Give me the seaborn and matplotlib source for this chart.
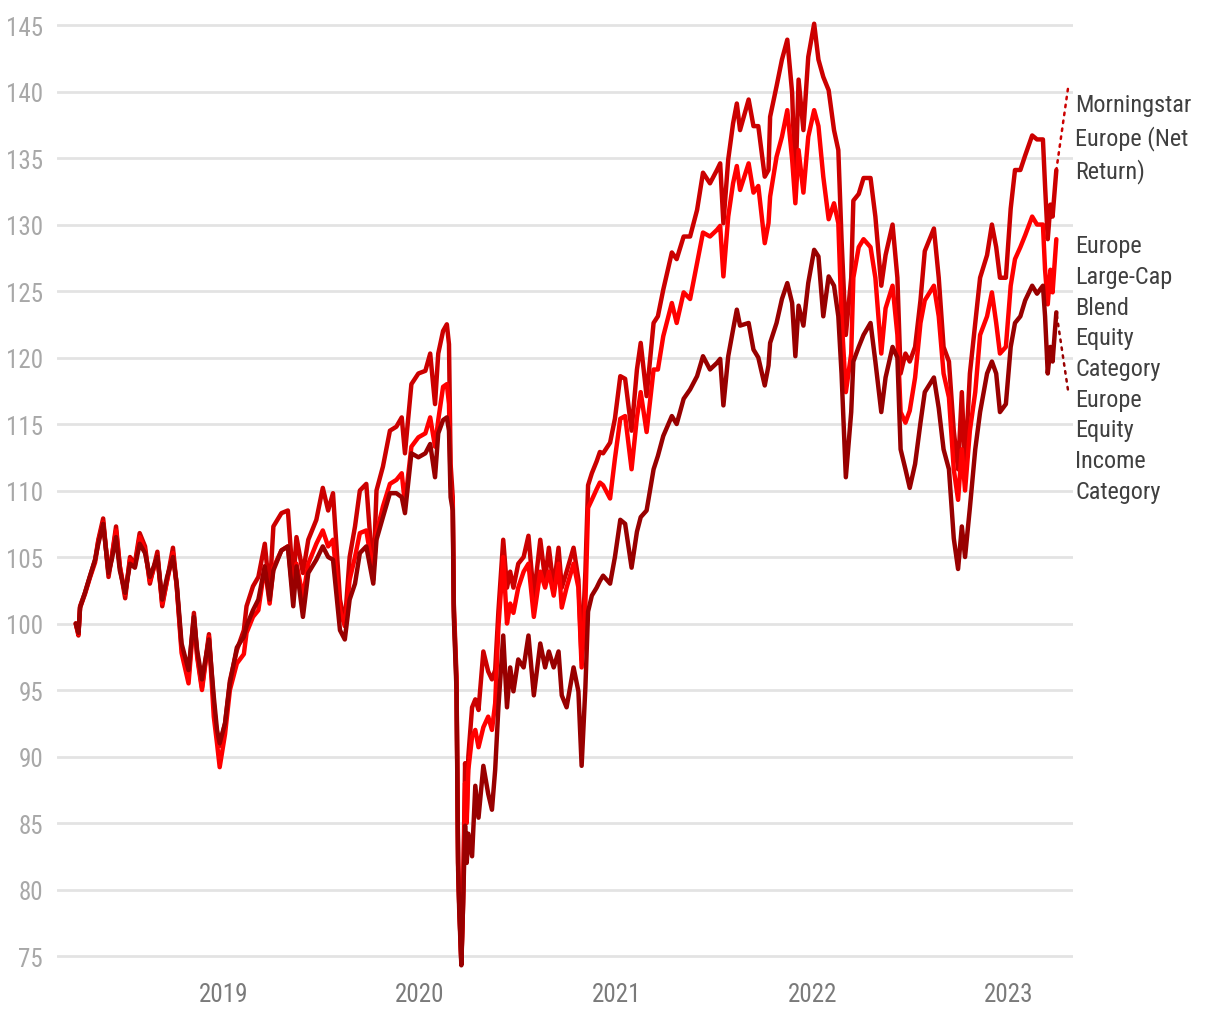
import matplotlib
matplotlib.use("Agg")
import matplotlib.pyplot as plt
import matplotlib.transforms as mtransforms
from matplotlib import font_manager
import pandas as pd
import seaborn as sns

# ---------------- data ----------------
dates = [
    "2018-03-31", "2018-04-05", "2018-04-08", "2018-04-17", "2018-04-26", "2018-05-06", "2018-05-12",
    "2018-05-21", "2018-05-31", "2018-06-06", "2018-06-14", "2018-06-21", "2018-07-01", "2018-07-10",
    "2018-07-19", "2018-07-28", "2018-08-07", "2018-08-16", "2018-08-30", "2018-09-08", "2018-09-17",
    "2018-09-28", "2018-10-05", "2018-10-14", "2018-10-27", "2018-11-06", "2018-11-12", "2018-11-21",
    "2018-12-04", "2018-12-13", "2018-12-19", "2018-12-24", "2019-01-03", "2019-01-12", "2019-01-25",
    "2019-02-07", "2019-02-12", "2019-02-24", "2019-03-06", "2019-03-18", "2019-03-27", "2019-04-03",
    "2019-04-18", "2019-04-30", "2019-05-10", "2019-05-16", "2019-05-28", "2019-06-07", "2019-06-22",
    "2019-07-04", "2019-07-14", "2019-07-23", "2019-08-05", "2019-08-14", "2019-08-23", "2019-09-02",
    "2019-09-11", "2019-09-23", "2019-10-06", "2019-10-12", "2019-10-24", "2019-11-06", "2019-11-18",
    "2019-11-28", "2019-12-04", "2019-12-16", "2019-12-29", "2020-01-11", "2020-01-20", "2020-01-29",
    "2020-02-04", "2020-02-13", "2020-02-20", "2020-02-24", "2020-02-27", "2020-03-02", "2020-03-04",
    "2020-03-09", "2020-03-12", "2020-03-14", "2020-03-18", "2020-03-21", "2020-03-25", "2020-03-28",
    "2020-03-31", "2020-04-07", "2020-04-13", "2020-04-19", "2020-04-28", "2020-05-07", "2020-05-14",
    "2020-05-20", "2020-05-26", "2020-06-04", "2020-06-11", "2020-06-17", "2020-06-23", "2020-07-02",
    "2020-07-12", "2020-07-21", "2020-07-31", "2020-08-12", "2020-08-21", "2020-08-28", "2020-09-06",
    "2020-09-15", "2020-09-21", "2020-09-30", "2020-10-13", "2020-10-22", "2020-10-28", "2020-11-04",
    "2020-11-09", "2020-11-16", "2020-11-25", "2020-12-01", "2020-12-07", "2020-12-20", "2020-12-29",
    "2021-01-08", "2021-01-17", "2021-01-29", "2021-02-08", "2021-02-15", "2021-02-26", "2021-03-11",
    "2021-03-19", "2021-03-29", "2021-04-14", "2021-04-23", "2021-05-06", "2021-05-18", "2021-05-31",
    "2021-06-11", "2021-06-24", "2021-07-07", "2021-07-13", "2021-07-19", "2021-07-28", "2021-08-06",
    "2021-08-13", "2021-08-19", "2021-09-04", "2021-09-13", "2021-09-22", "2021-10-04", "2021-10-11",
    "2021-10-14", "2021-10-26", "2021-11-05", "2021-11-15", "2021-11-24", "2021-11-30", "2021-12-06",
    "2021-12-15", "2021-12-24", "2022-01-04", "2022-01-12", "2022-01-21", "2022-01-31", "2022-02-10",
    "2022-02-18", "2022-02-24", "2022-03-04", "2022-03-14", "2022-03-18", "2022-03-28", "2022-04-06",
    "2022-04-19", "2022-04-28", "2022-05-09", "2022-05-17", "2022-05-30", "2022-06-08", "2022-06-14",
    "2022-06-23", "2022-07-01", "2022-07-11", "2022-07-21", "2022-07-29", "2022-08-15", "2022-08-24",
    "2022-09-02", "2022-09-12", "2022-09-21", "2022-09-29", "2022-10-06", "2022-10-12", "2022-10-21",
    "2022-10-31", "2022-11-09", "2022-11-22", "2022-12-01", "2022-12-09", "2022-12-16", "2022-12-27",
    "2023-01-05", "2023-01-13", "2023-01-23", "2023-02-01", "2023-02-14", "2023-02-23", "2023-03-06",
    "2023-03-10", "2023-03-15", "2023-03-20", "2023-03-24", "2023-03-31",
]

morningstar = [
    100.0, 99.1, 101.3, 102.3, 103.5, 104.8, 106.3, 107.9, 103.5, 105.0, 107.3, 104.3, 101.9, 105.0,
    104.5, 106.8, 105.8, 103.0, 105.4, 101.3, 103.3, 105.7, 102.8, 98.2, 96.0, 100.8, 97.7, 95.2,
    99.2, 94.0, 91.5, 90.8, 92.5, 95.7, 98.0, 99.5, 101.3, 102.8, 103.5, 106.0, 102.3, 107.3,
    108.3, 108.5, 103.0, 106.5, 103.8, 106.3, 107.8, 110.2, 108.5, 109.8, 101.8, 100.0, 105.0, 107.3,
    110.0, 110.5, 103.3, 110.0, 111.8, 114.5, 114.8, 115.5, 112.8, 118.0, 118.8, 119.0, 120.3, 116.5,
    120.3, 122.0, 122.5, 121.0, 112.0, 109.5, 101.5, 96.0, 82.0, 79.0, 74.5, 79.0, 89.5, 85.5,
    90.0, 93.7, 94.3, 93.5, 97.9, 96.4, 95.8, 96.5, 100.9, 106.3, 102.7, 103.9, 102.7, 104.5,
    105.0, 106.6, 102.0, 106.3, 103.3, 105.7, 102.7, 105.7, 102.7, 103.9, 105.7, 103.3, 97.3, 103.9,
    110.4, 111.3, 112.2, 112.9, 112.8, 113.6, 115.4, 118.6, 118.4, 114.5, 119.1, 121.1, 117.1, 122.6,
    123.1, 125.1, 127.9, 127.4, 129.1, 129.1, 131.1, 133.9, 133.1, 134.1, 134.6, 130.1, 134.9, 137.6,
    139.1, 137.1, 139.4, 137.4, 137.4, 133.6, 134.1, 138.1, 140.4, 142.4, 143.9, 139.9, 132.6, 140.9,
    137.1, 142.6, 145.1, 142.4, 141.1, 140.1, 137.1, 135.6, 128.9, 121.7, 126.0, 131.8, 132.3, 133.5,
    133.5, 130.6, 125.4, 127.7, 130.0, 126.0, 118.8, 120.3, 119.7, 120.8, 124.3, 128.0, 129.7, 126.0,
    120.8, 119.7, 114.5, 111.6, 117.4, 111.6, 118.8, 122.6, 126.0, 127.7, 130.0, 128.3, 126.0, 126.0,
    131.2, 134.1, 134.1, 135.2, 136.7, 136.4, 136.4, 132.9, 128.9, 131.5, 130.6, 134.1,
]

large_cap_blend = [
    100.0, 99.2, 101.2, 102.2, 103.4, 104.6, 106.2, 107.6, 103.8, 105.0, 107.0, 104.3, 102.2, 104.8,
    104.3, 106.5, 105.5, 103.2, 105.0, 101.5, 103.2, 105.3, 102.8, 97.8, 95.5, 100.5, 97.5, 95.0,
    99.0, 93.0, 91.0, 89.2, 91.7, 95.0, 97.0, 97.7, 99.3, 100.5, 101.0, 104.3, 101.5, 104.2,
    105.5, 105.8, 102.0, 104.5, 102.0, 104.5, 106.0, 107.0, 105.8, 106.3, 101.0, 99.8, 103.3, 105.0,
    106.8, 107.0, 103.8, 106.8, 108.8, 110.5, 110.8, 111.3, 109.0, 113.3, 114.0, 114.3, 115.5, 113.3,
    115.3, 117.8, 118.0, 116.5, 110.5, 109.0, 101.0, 95.5, 82.0, 79.0, 74.5, 78.5, 88.0, 85.0,
    89.0, 91.5, 92.0, 90.7, 92.2, 93.0, 92.0, 94.0, 99.7, 105.0, 100.0, 101.5, 100.8, 102.7,
    103.9, 104.5, 100.5, 103.9, 102.7, 103.9, 102.1, 104.5, 101.2, 102.7, 104.5, 102.7, 96.7, 101.5,
    108.7, 109.3, 110.1, 110.6, 110.4, 109.4, 112.4, 115.4, 115.6, 111.6, 115.5, 117.4, 114.4, 119.1,
    119.1, 121.6, 124.1, 122.6, 124.9, 124.4, 127.1, 129.4, 129.1, 129.6, 129.9, 126.1, 130.6, 133.1,
    134.4, 132.6, 134.6, 132.4, 132.9, 128.6, 130.1, 132.1, 135.1, 136.6, 138.6, 134.9, 131.6, 135.6,
    132.4, 136.6, 138.6, 137.4, 133.6, 130.4, 131.6, 130.1, 123.1, 117.4, 120.3, 126.0, 128.3, 128.9,
    128.3, 126.0, 120.3, 123.7, 125.4, 121.7, 115.9, 115.1, 116.0, 118.5, 122.6, 124.3, 125.4, 123.1,
    118.8, 117.0, 111.6, 109.3, 113.1, 110.0, 114.5, 117.4, 121.7, 123.1, 124.9, 122.6, 120.3, 120.8,
    125.4, 127.4, 128.3, 129.2, 130.6, 130.0, 130.0, 126.6, 124.0, 126.6, 124.9, 128.9,
]

equity_income = [
    100.0, 99.3, 101.2, 102.3, 103.5, 104.8, 106.0, 107.5, 103.8, 104.8, 106.5, 104.0, 102.3, 104.5,
    104.2, 106.0, 105.3, 103.5, 105.0, 101.8, 103.5, 105.0, 103.0, 98.5, 96.5, 100.5, 98.0, 95.8,
    98.8, 94.5, 92.0, 91.0, 92.5, 95.5, 98.2, 99.0, 99.8, 101.0, 101.8, 104.3, 101.8, 104.0,
    105.5, 105.8, 101.3, 104.3, 100.5, 103.8, 104.8, 105.8, 105.0, 104.8, 99.5, 98.8, 101.8, 103.0,
    105.3, 105.8, 103.0, 106.3, 108.0, 109.8, 109.8, 109.5, 108.3, 112.8, 112.5, 112.8, 113.5, 111.0,
    114.3, 115.3, 115.5, 114.5, 109.5, 108.5, 100.5, 95.0, 81.5, 78.5, 74.3, 78.5, 84.8, 82.0,
    84.2, 82.5, 87.8, 85.4, 89.3, 87.2, 86.0, 89.0, 93.7, 99.1, 93.7, 96.7, 94.9, 97.3,
    96.7, 99.1, 94.6, 98.5, 96.7, 97.9, 96.7, 97.9, 94.6, 93.7, 96.7, 94.9, 89.3, 95.2,
    100.9, 102.1, 102.7, 103.2, 103.6, 103.0, 105.0, 107.8, 107.5, 104.2, 106.9, 108.0, 108.5, 111.6,
    112.6, 114.1, 115.6, 115.0, 116.9, 117.6, 118.6, 120.1, 119.1, 119.6, 119.9, 116.4, 120.1, 122.1,
    123.6, 122.4, 122.6, 120.6, 120.0, 117.9, 119.4, 121.1, 122.6, 124.4, 125.6, 124.1, 120.1, 123.9,
    122.4, 125.6, 128.1, 127.6, 123.1, 126.1, 125.4, 123.1, 118.8, 111.0, 115.9, 119.7, 120.8, 121.7,
    122.6, 119.7, 115.9, 118.5, 120.8, 120.0, 113.1, 111.6, 110.2, 112.0, 115.1, 117.4, 118.5, 116.2,
    113.1, 111.6, 106.4, 104.1, 107.3, 105.0, 108.7, 113.1, 115.9, 118.8, 119.7, 118.8, 115.9, 116.5,
    120.8, 122.6, 123.1, 124.3, 125.4, 124.8, 125.4, 123.1, 118.8, 120.8, 119.7, 123.4,
]

series_names = [
    "Morningstar Europe (Net Return)",
    "Europe Large-Cap Blend Equity Category",
    "Europe Equity Income Category",
]
label_texts = [
    "Morningstar\nEurope (Net\nReturn)",
    "Europe\nLarge-Cap\nBlend\nEquity\nCategory",
    "Europe\nEquity\nIncome\nCategory",
]
colors = ["#cc0000", "#ff0000", "#990000"]
y_ticks = [75, 80, 85, 90, 95, 100, 105, 110, 115, 120, 125, 130, 135, 140, 145]
x_tick_years = ["2019", "2020", "2021", "2022", "2023"]

# ---------------- build long-form table ----------------
frames = []
for name, vals in zip(series_names, [morningstar, large_cap_blend, equity_income]):
    frames.append(pd.DataFrame({"date": pd.to_datetime(dates), "value": vals, "series": name}))
df = pd.concat(frames, ignore_index=True)

# ---------------- style ----------------
sns.set_theme(style="white")
available = {f.name for f in font_manager.fontManager.ttflist}
fam = [f for f in ["Liberation Sans Narrow", "Roboto Condensed", "Liberation Sans", "DejaVu Sans"] if f in available]
plt.rcParams["font.family"] = fam

fig = plt.figure(figsize=(12.2, 10.2), dpi=100)
ax = fig.add_axes([0.0467, 0.0487, 0.8328, 0.9388])

sns.lineplot(
    data=df, x="date", y="value", hue="series", hue_order=series_names,
    palette=colors, linewidth=3.2, legend=False, ax=ax, estimator=None,
)

ax.set_ylim(74, 146)
ax.set_xlim(pd.Timestamp("2018-02-24"), pd.Timestamp("2023-05-01"))
ax.set_yticks(y_ticks)
ax.set_yticklabels([str(v) for v in y_ticks])
ax.set_xticks(pd.to_datetime([y + "-01-01" for y in x_tick_years]))
ax.set_xticklabels(x_tick_years)
ax.set_xlabel("")
ax.set_ylabel("")

ax.grid(axis="y", color="#e3e3e3", linewidth=2)
ax.grid(axis="x", visible=False)
ax.set_axisbelow(True)
for s in ax.spines.values():
    s.set_visible(False)
ax.tick_params(axis="y", length=0, pad=10, labelsize=18, labelcolor="#a8a8a8")
ax.tick_params(axis="x", length=0, pad=9, labelsize=18, labelcolor="#7a7a7a")

# ---------------- end labels ----------------
trans = mtransforms.blended_transform_factory(ax.transAxes, ax.transData)
label_y = [136.5, 123.8, 113.4]
for txt, yv in zip(label_texts, label_y):
    ax.text(1.002, yv, txt, transform=trans, ha="left", va="center",
            fontsize=17.5, color="#404040", linespacing=1.43, clip_on=False)

end_date = pd.Timestamp(dates[-1])
ax.annotate("", xy=(end_date, morningstar[-1]), xytext=(0.995, 140.2),
            textcoords=trans, xycoords="data",
            arrowprops=dict(arrowstyle="-", linestyle=(0, (1, 2.2)), color="#cc0000",
                            linewidth=1.8, shrinkA=0, shrinkB=0))
ax.annotate("", xy=(end_date, equity_income[-1]), xytext=(0.995, 117.6),
            textcoords=trans, xycoords="data",
            arrowprops=dict(arrowstyle="-", linestyle=(0, (1, 2.2)), color="#990000",
                            linewidth=1.8, shrinkA=0, shrinkB=0))

fig.savefig("out.png", dpi=100)
